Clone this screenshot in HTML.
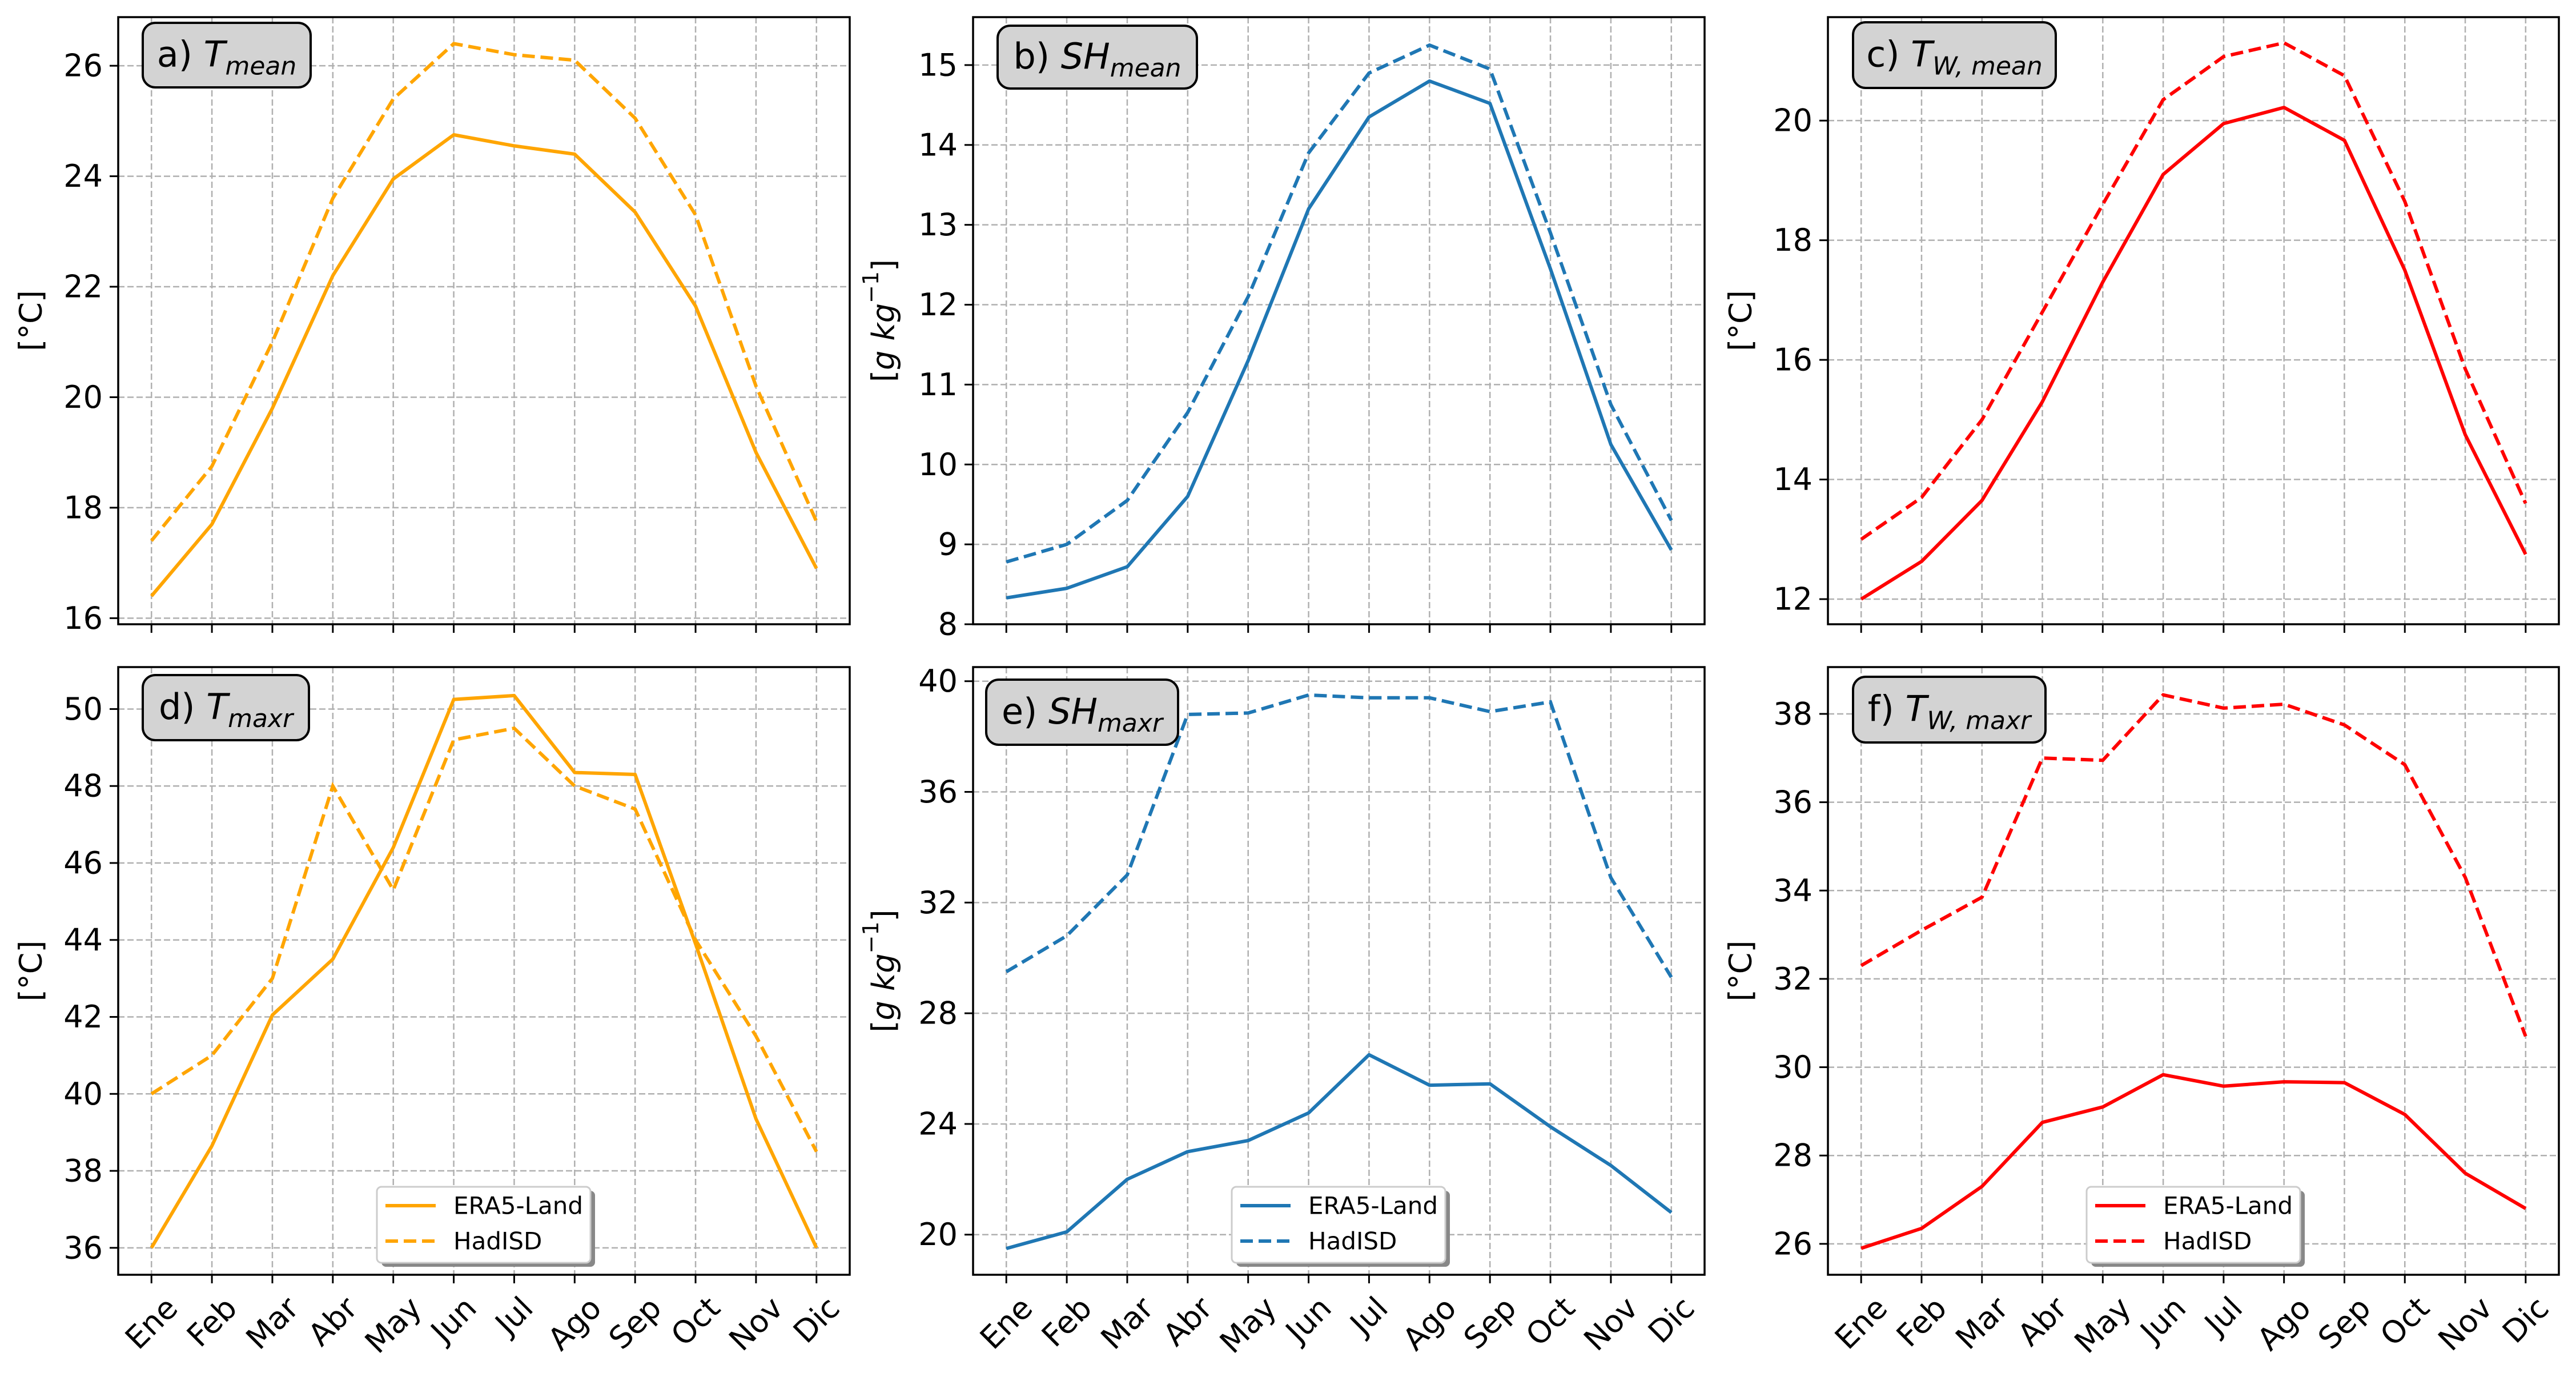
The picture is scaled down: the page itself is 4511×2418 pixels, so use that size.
<!DOCTYPE html>
<html><head><meta charset="utf-8"><style>
html,body{margin:0;padding:0;background:#fff;}
svg{display:block;font-family:"DejaVu Sans","Liberation Sans",sans-serif;}
</style></head><body>
<svg id="fig" width="4511" height="2418" viewBox="0 0 4511 2418" xmlns="http://www.w3.org/2000/svg"></svg>
<script>
const months = ["Ene","Feb","Mar","Abr","May","Jun","Jul","Ago","Sep","Oct","Nov","Dic"];
const aEra = [16.4,17.7,19.8,22.2,23.95,24.75,24.55,24.4,23.35,21.65,19.0,16.9];
const aHad = [17.4,18.75,21.0,23.6,25.4,26.4,26.2,26.1,25.05,23.3,20.2,17.75];
const bEra = [8.33,8.45,8.72,9.6,11.3,13.2,14.35,14.8,14.52,12.45,10.25,8.93];
const bHad = [8.78,9.0,9.55,10.65,12.1,13.9,14.9,15.25,14.95,12.9,10.75,9.3];
const cEra = [12.0,12.63,13.65,15.3,17.3,19.1,19.95,20.22,19.67,17.5,14.75,12.75];
const cHad = [13.0,13.7,15.0,16.8,18.6,20.35,21.07,21.3,20.75,18.65,15.85,13.6];
const dEra = [36.0,38.65,42.05,43.5,46.4,50.25,50.35,48.35,48.3,43.9,39.35,36.0];
const dHad = [40.0,41.0,43.0,48.0,45.3,49.2,49.5,48.0,47.4,44.0,41.5,38.5];
const eEra = [19.5,20.1,22.0,23.0,23.4,24.4,26.5,25.4,25.45,23.9,22.5,20.8];
const eHad = [29.5,30.8,33.0,38.8,38.85,39.5,39.4,39.4,38.9,39.25,32.9,29.3];
const fEra = [25.9,26.35,27.3,28.75,29.1,29.83,29.57,29.67,29.65,28.93,27.6,26.8];
const fHad = [32.3,33.1,33.85,37.0,36.95,38.43,38.13,38.22,37.75,36.85,34.3,30.7];
const aTicks = [16,18,20,22,24,26];
const bTicks = [8,9,10,11,12,13,14,15];
const cTicks = [12,14,16,18,20];
const dTicks = [36,38,40,42,44,46,48,50];
const eTicks = [20,24,28,32,36,40];
const fTicks = [26,28,30,32,34,36,38];

const NS="http://www.w3.org/2000/svg";
const svg=document.getElementById('fig');
function mk(tag,attrs,parent){const e=document.createElementNS(NS,tag);for(const k in attrs)e.setAttribute(k,attrs[k]);(parent||svg).appendChild(e);return e;}

const panels=[
 {id:'a',L:207,R:1488,T:30,B:1093,ymin:15.89,ymax:26.88,ticks:aTicks,era:aEra,had:aHad,color:'#ffa500',ylab:'[°C]',ylx:54,box:[250,40,294,113],lbl:'a) ',sym:'T',sub:'mean',xl:false,leg:false},
 {id:'b',L:1704,R:2985,T:30,B:1093,ymin:8.0,ymax:15.6,ticks:bTicks,era:bEra,had:bHad,color:'#1f77b4',ylab:'g',ylx:1547,box:[1747,45,349,110],lbl:'b) ',sym:'SH',sub:'mean',xl:false,leg:false},
 {id:'c',L:3201,R:4481,T:30,B:1093,ymin:11.58,ymax:21.73,ticks:cTicks,era:cEra,had:cHad,color:'#ff0000',ylab:'[°C]',ylx:3048,box:[3245,39,355,115],lbl:'c) ',sym:'T',sub:'W, mean',xl:false,leg:false},
 {id:'d',L:207,R:1488,T:1168,B:2232,ymin:35.30,ymax:51.09,ticks:dTicks,era:dEra,had:dHad,color:'#ffa500',ylab:'[°C]',ylx:54,box:[250,1182,291,114],lbl:'d) ',sym:'T',sub:'maxr',xl:true,leg:true,legx:660},
 {id:'e',L:1704,R:2985,T:1168,B:2232,ymin:18.55,ymax:40.51,ticks:eTicks,era:eEra,had:eHad,color:'#1f77b4',ylab:'g',ylx:1547,box:[1727,1190,336,114],lbl:'e) ',sym:'SH',sub:'maxr',xl:true,leg:true,legx:2157},
 {id:'f',L:3201,R:4481,T:1168,B:2232,ymin:25.30,ymax:39.06,ticks:fTicks,era:fEra,had:fHad,color:'#ff0000',ylab:'[°C]',ylx:3048,box:[3245,1185,337,115],lbl:'f) ',sym:'T',sub:'W, maxr',xl:true,leg:true,legx:3654}
];

panels.forEach(p=>{
  const g=mk('g',{});
  
  
  const W=p.R-p.L;
  const unit=W/12.1;
  const xs=i=>p.L+unit*(0.55+i);
  const ys=v=>p.B-(v-p.ymin)/(p.ymax-p.ymin)*(p.B-p.T);
  // grid
  months.forEach((m,i)=>{
    const l=mk('line',{x1:xs(i),x2:xs(i),y1:p.T,y2:p.B,stroke:'#b0b0b0','stroke-width':2.5,'stroke-dasharray':'11,5'},g);
    
    
  });
  p.ticks.forEach(t=>{
    const l=mk('line',{x1:p.L,x2:p.R,y1:ys(t),y2:ys(t),stroke:'#b0b0b0','stroke-width':2.5,'stroke-dasharray':'11,5'},g);
    
    
  });
  // series
  const pts=arr=>arr.map((v,i)=>xs(i).toFixed(1)+','+ys(v).toFixed(1)).join(' ');
  const s1=mk('polyline',{points:pts(p.era),fill:'none',stroke:p.color,'stroke-width':6,'stroke-linejoin':'round'},g);
  
  
  const s2=mk('polyline',{points:pts(p.had),fill:'none',stroke:p.color,'stroke-width':6,'stroke-dasharray':'22,10'},g);
  
  
  // frame
  const fr=mk('rect',{x:p.L,y:p.T,width:W,height:p.B-p.T,fill:'none',stroke:'#000','stroke-width':3.5},g);
  
  
  // y ticks
  p.ticks.forEach(t=>{
    const tk=mk('line',{x1:p.L-15,x2:p.L,y1:ys(t),y2:ys(t),stroke:'#000','stroke-width':3},g);
    
    
    const tx=mk('text',{x:p.L-27,y:ys(t),'text-anchor':'end','dominant-baseline':'central','font-size':54,fill:'#000'},g);
    tx.textContent=String(t);
    
    
  });
  // x ticks
  months.forEach((m,i)=>{
    const tk=mk('line',{x1:xs(i),x2:xs(i),y1:p.B,y2:p.B+15,stroke:'#000','stroke-width':3},g);
    
    
    if(p.xl){
      const tx=mk('text',{'text-anchor':'middle','dominant-baseline':'central','font-size':54,fill:'#000'},g);
      tx.textContent=m;
      
      
      const w=tx.getComputedTextLength();
      const h=64;
      const bh=(w+h)/Math.SQRT2;
      const cx=xs(i), cy=p.B+26+bh/2;
      tx.setAttribute('x',cx);tx.setAttribute('y',cy);
      tx.setAttribute('transform','rotate(-45 '+cx+' '+cy+')');
    }
  });
  // y label
  const cy=(p.T+p.B)/2;
  const yl=mk('text',{x:p.ylx,y:cy,'text-anchor':'middle','dominant-baseline':'central','font-size':54,fill:'#000',transform:'rotate(-90 '+p.ylx+' '+cy+')'},g);
  
  
  if(p.ylab==='g'){
    yl.innerHTML='[<tspan font-style="italic">g kg</tspan><tspan font-size="38" dy="-22">−1</tspan><tspan dy="22">]</tspan>';
  } else yl.textContent=p.ylab;
  // title box
  const b=p.box;
  const br=mk('rect',{x:b[0],y:b[1],width:b[2],height:b[3],rx:22,ry:22,fill:'#d3d3d3',stroke:'#000','stroke-width':4},g);
  
  
  const tt=mk('text',{x:b[0]+b[2]/2,y:b[1]+b[3]/2+20,'text-anchor':'middle','font-size':62,fill:'#000'},g);
  
  
  tt.innerHTML=p.lbl+'<tspan font-style="italic">'+p.sym+'</tspan><tspan font-style="italic" font-size="44" dy="14">'+p.sub+'</tspan>';
  // legend
  if(p.leg){
    const lg=mk('g',{},g);
    
    
    const lx=p.legx, ly=2078, lw=374, lh=133;
    mk('rect',{x:lx+8,y:ly+7,width:lw,height:lh,rx:8,fill:'#888'},lg);
    mk('rect',{x:lx,y:ly,width:lw,height:lh,rx:8,fill:'#fff',stroke:'#cccccc','stroke-width':3},lg);
    const e1=mk('line',{x1:lx+15,x2:lx+103,y1:ly+33,y2:ly+33,stroke:p.color,'stroke-width':6},lg);
    
    
    const e2=mk('line',{x1:lx+15,x2:lx+103,y1:ly+95,y2:ly+95,stroke:p.color,'stroke-width':6,'stroke-dasharray':'22,10'},lg);
    
    
    const t1=mk('text',{x:lx+134,y:ly+33,'dominant-baseline':'central','font-size':42,fill:'#000'},lg);
    t1.textContent='ERA5-Land';
    
    
    const t2=mk('text',{x:lx+134,y:ly+95,'dominant-baseline':'central','font-size':42,fill:'#000'},lg);
    t2.textContent='HadISD';
    
    
  }
});
</script>
</body></html>
